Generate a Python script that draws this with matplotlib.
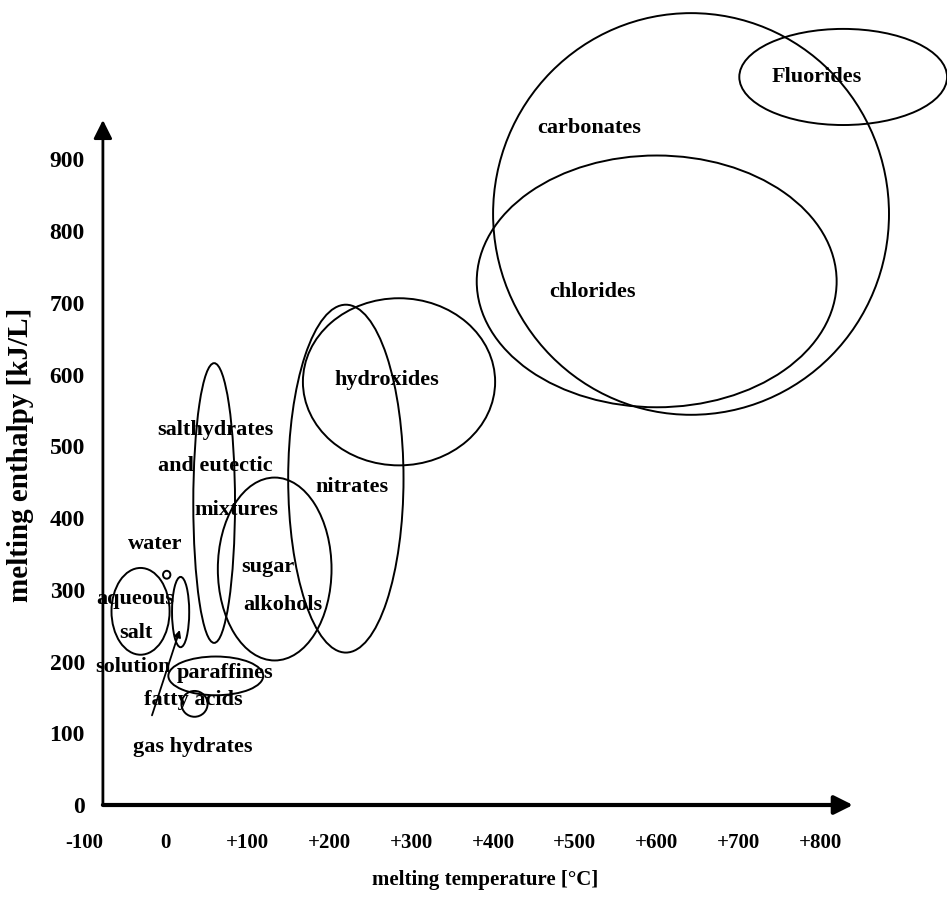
import matplotlib
matplotlib.use("Agg")
import matplotlib.pyplot as plt
from matplotlib.patches import Ellipse

plt.rcParams['font.family'] = ['Liberation Serif', 'DejaVu Serif']
plt.rcParams['font.weight'] = 'bold'

# ---- data (melting temperature in °C, melting enthalpy in kJ/L) ----
# ellipse regions: name, centre T, centre H, width T, height H
REGION_NAMES = ["Fluorides", "carbonates", "chlorides", "hydroxides", "nitrates",
                "sugar alcohols", "salt hydrates", "aqueous salt", "water range",
                "water", "paraffines", "fatty acids"]
REGION_T = [828, 642, 600, 285, 220, 133, 59, -31, 18, 1, 61, 35]
REGION_H = [1015, 824, 730, 590, 455, 329, 421, 270, 269, 321, 180, 141]
REGION_DT = [254, 484, 440, 235, 141, 139, 51, 71, 21, 9, 116, 32]
REGION_DH = [134, 560, 351, 233, 485, 255, 390, 121, 98, 11, 54, 36]

# text labels
LABELS = ["Fluorides", "carbonates", "chlorides", "hydroxides", "nitrates",
          "salthydrates", "and eutectic", "mixtures", "sugar", "alkohols",
          "water", "aqueous", "salt", "solution", "paraffines", "fatty acids",
          "gas hydrates"]
LABEL_T = [796, 518, 522, 270, 227, 61, 60, 86, 125, 143, -13, -38, -37, -40, 72, 33, 33]
LABEL_H = [1015, 944, 715, 592, 443, 523, 473, 411, 332, 279, 364, 287, 240, 192, 184, 146, 81]

# gas hydrates pointer
ARROW_FROM = (-17, 125)
ARROW_TO = (17, 244)

X_TICKS = [-100, 0, 100, 200, 300, 400, 500, 600, 700, 800]
X_TICKLABELS = ["-100", "0", "+100", "+200", "+300", "+400", "+500", "+600", "+700", "+800"]
Y_TICKS = [0, 100, 200, 300, 400, 500, 600, 700, 800, 900]

X_AXIS_START, X_AXIS_END = -77, 840
Y_AXIS_END = 955

# ---- figure ----
fig = plt.figure(figsize=(9.47, 8.98), dpi=100)
ax = fig.add_axes([80 / 947, 93 / 898, 773 / 947, 685 / 898])
ax.set_xlim(-105, 840)
ax.set_ylim(0, 955)

for name in ["top", "right", "bottom", "left"]:
    ax.spines[name].set_visible(False)
ax.spines["left"].set_position(("data", X_AXIS_START))

ax.set_xticks(X_TICKS)
ax.set_xticklabels(X_TICKLABELS)
ax.set_yticks(Y_TICKS)
ax.tick_params(axis="x", length=0, pad=20, labelsize=15)
ax.tick_params(axis="y", length=0, pad=13, labelsize=17)

# axis arrows
ax.annotate("", xy=(X_AXIS_END, 0), xytext=(X_AXIS_START, 0), annotation_clip=False,
            arrowprops=dict(arrowstyle="-|>", lw=3, color="black", mutation_scale=28,
                            shrinkA=0, shrinkB=0))
ax.annotate("", xy=(X_AXIS_START, Y_AXIS_END), xytext=(X_AXIS_START, 0), annotation_clip=False,
            arrowprops=dict(arrowstyle="-|>", lw=2, color="black", mutation_scale=28,
                            shrinkA=0, shrinkB=0))

for t, h, dt, dh in zip(REGION_T, REGION_H, REGION_DT, REGION_DH):
    ax.add_patch(Ellipse((t, h), dt, dh, fill=False, ec="black", lw=1.4, clip_on=False))

ax.annotate("", xy=ARROW_TO, xytext=ARROW_FROM, annotation_clip=False,
            arrowprops=dict(arrowstyle="-|>", lw=1.3, color="black", mutation_scale=10,
                            shrinkA=0, shrinkB=0))

for txt, t, h in zip(LABELS, LABEL_T, LABEL_H):
    ax.text(t, h, txt, ha="center", va="center", fontsize=16, fontweight="bold",
            clip_on=False)

ax.set_xlabel("melting temperature [°C]", fontsize=15, fontweight="bold")
ax.xaxis.set_label_coords(0.524, -0.095)
ax.set_ylabel("melting enthalpy [kJ/L]", fontsize=21, fontweight="bold")
ax.yaxis.set_label_coords(-0.06, 0.511)

fig.savefig("out.png", dpi=100)
